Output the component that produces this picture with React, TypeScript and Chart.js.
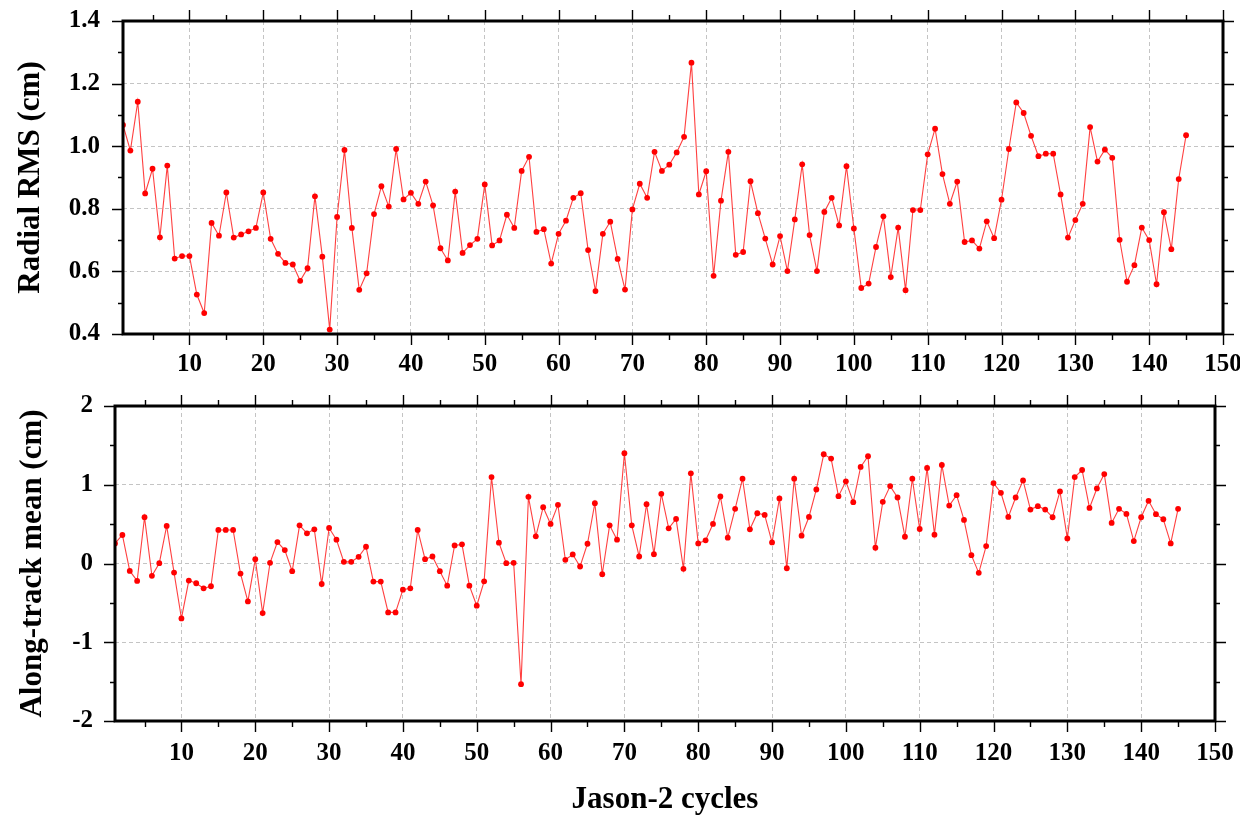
import React, { useEffect, useRef } from 'react';
import { Chart, registerables } from 'chart.js';

Chart.register(...registerables);

// Jason-2 cycle numbers (x categories)
const cycles: number[] = Array.from({ length: 145 }, (_, i) => i + 1);

// Radial RMS (cm), cycles 1..145
const radialRms: number[] = [
  1.068, 0.986, 1.142, 0.849, 0.928, 0.709, 0.938, 0.641, 0.649, 0.649,
  0.526, 0.467, 0.755, 0.714, 0.852, 0.708, 0.718, 0.728, 0.739, 0.852,
  0.704, 0.656, 0.627, 0.622, 0.570, 0.610, 0.840, 0.647, 0.414, 0.774,
  0.988, 0.739, 0.541, 0.594, 0.783, 0.872, 0.807, 0.991, 0.830, 0.851,
  0.816, 0.887, 0.811, 0.674, 0.635, 0.855, 0.659, 0.684, 0.704, 0.878,
  0.683, 0.699, 0.781, 0.739, 0.921, 0.966, 0.726, 0.735, 0.625, 0.720,
  0.762, 0.835, 0.850, 0.668, 0.537, 0.720, 0.759, 0.640, 0.542, 0.798,
  0.880, 0.835, 0.982, 0.921, 0.941, 0.980, 1.030, 1.267, 0.846, 0.920,
  0.586, 0.826, 0.982, 0.653, 0.662, 0.888, 0.786, 0.705, 0.622, 0.713,
  0.601, 0.766, 0.942, 0.716, 0.601, 0.790, 0.835, 0.747, 0.936, 0.737,
  0.547, 0.561, 0.678, 0.776, 0.582, 0.740, 0.540, 0.796, 0.796, 0.974,
  1.056, 0.911, 0.816, 0.887, 0.694, 0.699, 0.673, 0.760, 0.706, 0.829,
  0.991, 1.140, 1.106, 1.033, 0.968, 0.976, 0.976, 0.846, 0.708, 0.764,
  0.816, 1.061, 0.951, 0.989, 0.963, 0.701, 0.567, 0.620, 0.740, 0.700,
  0.559, 0.789, 0.671, 0.895, 1.035,
];

// Along-track mean (cm), cycles 1..145
const alongTrackMean: number[] = [
  0.255, 0.362, -0.094, -0.221, 0.587, -0.157, 0.004, 0.477, -0.115, -0.698,
  -0.217, -0.251, -0.315, -0.289, 0.426, 0.426, 0.426, -0.128, -0.481, 0.055,
  -0.630, 0.009, 0.272, 0.170, -0.098, 0.485, 0.383, 0.434, -0.260, 0.451,
  0.302, 0.021, 0.021, 0.085, 0.213, -0.230, -0.230, -0.621, -0.621, -0.332,
  -0.315, 0.426, 0.055, 0.089, -0.098, -0.281, 0.230, 0.243, -0.281, -0.536,
  -0.226, 1.098, 0.264, 0.004, 0.009, -1.532, 0.847, 0.345, 0.715, 0.502,
  0.745, 0.047, 0.115, -0.038, 0.251, 0.766, -0.136, 0.485, 0.302, 1.400,
  0.485, 0.089, 0.753, 0.119, 0.885, 0.447, 0.566, -0.068, 1.145, 0.255,
  0.294, 0.502, 0.851, 0.328, 0.694, 1.077, 0.434, 0.638, 0.617, 0.268,
  0.826, -0.060, 1.077, 0.353, 0.591, 0.940, 1.387, 1.332, 0.855, 1.043,
  0.779, 1.226, 1.362, 0.200, 0.783, 0.983, 0.838, 0.340, 1.077, 0.438,
  1.213, 0.366, 1.251, 0.736, 0.868, 0.553, 0.106, -0.119, 0.221, 1.021,
  0.898, 0.591, 0.838, 1.055, 0.685, 0.728, 0.685, 0.587, 0.915, 0.319,
  1.098, 1.187, 0.706, 0.953, 1.136, 0.515, 0.694, 0.630, 0.285, 0.587,
  0.796, 0.626, 0.562, 0.255, 0.694,
];

// Tick labels
const xTickValues: number[] = [10, 20, 30, 40, 50, 60, 70, 80, 90, 100, 110, 120, 130, 140, 150];
const radialTicks: number[] = [0.4, 0.6, 0.8, 1.0, 1.2, 1.4];
const alongTicks: number[] = [-2, -1, 0, 1, 2];

const FONT = '"Liberation Serif", "Times New Roman", serif';

type Cfg = {
  values: number[];
  yMin: number;
  yMax: number;
  yTicks: number[];
  yMinorStep: number;
  decimals: number;
  yTitle: string;
  xTitle: string | null;
  padTop: number;
  padRight: number;
  yWidth: number;
  xHeight: number;
  yLabelPad: number;
  xLabelPad: number;
  yTitlePad: number;
  xTitlePad: number;
};

function makeFramePlugin(minorStep: number) {
  return {
    id: 'frameTicks',
    afterDraw(chart: any) {
      const { ctx, chartArea: a, scales } = chart;
      const xs = scales.x;
      const ys = scales.y;
      ctx.save();
      ctx.strokeStyle = '#000';
      ctx.lineWidth = 1.4;
      ctx.beginPath();
      for (let v = 5; v <= xs.max + 1e-6; v += 5) {
        if (v < xs.min) continue;
        const px = Math.round(xs.getPixelForValue(v)) + 0.5;
        const len = v % 10 === 0 ? 11 : 6;
        ctx.moveTo(px, a.bottom);
        ctx.lineTo(px, a.bottom + len);
        ctx.moveTo(px, a.top);
        ctx.lineTo(px, a.top - len);
      }
      const n = Math.round((ys.max - ys.min) / minorStep);
      for (let k = 0; k <= n; k++) {
        const v = ys.min + k * minorStep;
        const py = Math.round(ys.getPixelForValue(v)) + 0.5;
        const len = k % 2 === 0 ? 11 : 5;
        ctx.moveTo(a.left - len, py);
        ctx.lineTo(a.left, py);
        ctx.moveTo(a.right, py);
        ctx.lineTo(a.right + len, py);
      }
      ctx.stroke();
      ctx.lineWidth = 3;
      ctx.strokeRect(a.left, a.top, a.right - a.left, a.bottom - a.top);
      ctx.restore();
    },
  };
}

function buildChart(canvas: HTMLCanvasElement, c: Cfg) {
  const zeroPad = (s: any) => {
    s.paddingLeft = 0;
    s.paddingRight = 0;
    s.paddingTop = 0;
    s.paddingBottom = 0;
  };
  return new Chart(canvas, {
    type: 'line',
    data: {
      datasets: [
        {
          data: cycles.map((cy, i) => ({ x: cy, y: c.values[i] })),
          borderColor: 'rgba(255,30,30,0.85)',
          backgroundColor: '#ff0000',
          borderWidth: 1.1,
          pointRadius: 2.9,
          pointBorderWidth: 0,
          pointBackgroundColor: '#ff0000',
          tension: 0,
        },
      ],
    },
    options: {
      responsive: false,
      animation: false,
      devicePixelRatio: 1,
      layout: { padding: { top: c.padTop, right: c.padRight, left: 0, bottom: 0 } },
      plugins: { legend: { display: false }, tooltip: { enabled: false } },
      scales: {
        x: {
          type: 'linear',
          min: 1,
          max: 150,
          afterBuildTicks: (s: any) => {
            s.ticks = xTickValues.map((v) => ({ value: v }));
          },
          afterFit: (s: any) => {
            s.height = c.xHeight;
            zeroPad(s);
          },
          grid: { color: '#c4c4c4', lineWidth: 1, drawTicks: false },
          border: { display: false, dash: [4, 3] },
          ticks: {
            autoSkip: false,
            maxRotation: 0,
            minRotation: 0,
            padding: c.xLabelPad,
            color: '#000',
            font: { family: FONT, size: 25, weight: 'bold' },
            callback: (v: any) => String(v),
          },
          title: {
            display: !!c.xTitle,
            text: c.xTitle || '',
            color: '#000',
            font: { family: FONT, size: 31, weight: 'bold' },
            padding: { top: 0, bottom: c.xTitlePad },
          },
        },
        y: {
          type: 'linear',
          min: c.yMin,
          max: c.yMax,
          afterBuildTicks: (s: any) => {
            s.ticks = c.yTicks.map((v) => ({ value: v }));
          },
          afterFit: (s: any) => {
            s.width = c.yWidth;
            zeroPad(s);
          },
          grid: { color: '#c4c4c4', lineWidth: 1, drawTicks: false },
          border: { display: false, dash: [4, 3] },
          ticks: {
            autoSkip: false,
            padding: c.yLabelPad,
            color: '#000',
            font: { family: FONT, size: 25, weight: 'bold' },
            callback: (v: any) => Number(v).toFixed(c.decimals),
          },
          title: {
            display: true,
            text: c.yTitle,
            color: '#000',
            font: { family: FONT, size: 31, weight: 'bold' },
            padding: { top: c.yTitlePad, bottom: 0 },
          },
        },
      },
    } as any,
    plugins: [makeFramePlugin(c.yMinorStep)],
  });
}

export default function App() {
  const topRef = useRef<HTMLCanvasElement | null>(null);
  const botRef = useRef<HTMLCanvasElement | null>(null);

  useEffect(() => {
    if (!topRef.current || !botRef.current) return;
    const top = buildChart(topRef.current, {
      values: radialRms,
      yMin: 0.4,
      yMax: 1.4,
      yTicks: radialTicks,
      yMinorStep: 0.1,
      decimals: 1,
      yTitle: 'Radial RMS (cm)',
      xTitle: null,
      padTop: 21,
      padRight: 17,
      yWidth: 123,
      xHeight: 46,
      yLabelPad: 23,
      xLabelPad: 16,
      yTitlePad: 12,
      xTitlePad: 0,
    });
    const bot = buildChart(botRef.current, {
      values: alongTrackMean,
      yMin: -2,
      yMax: 2,
      yTicks: alongTicks,
      yMinorStep: 0.5,
      decimals: 0,
      yTitle: 'Along-track mean (cm)',
      xTitle: 'Jason-2 cycles',
      padTop: 26,
      padRight: 25,
      yWidth: 115,
      xHeight: 100,
      yLabelPad: 22,
      xLabelPad: 18,
      yTitlePad: 14,
      xTitlePad: 2,
    });
    return () => {
      top.destroy();
      bot.destroy();
    };
  }, []);

  return (
    <div style={{ position: 'absolute', left: 0, top: 0, width: 1240, height: 821, background: '#fff', overflow: 'hidden' }}>
      <canvas ref={topRef} width={1240} height={380} style={{ position: 'absolute', left: 0, top: 0, display: 'block' }} />
      <canvas ref={botRef} width={1240} height={441} style={{ position: 'absolute', left: 0, top: 380, display: 'block' }} />
    </div>
  );
}
